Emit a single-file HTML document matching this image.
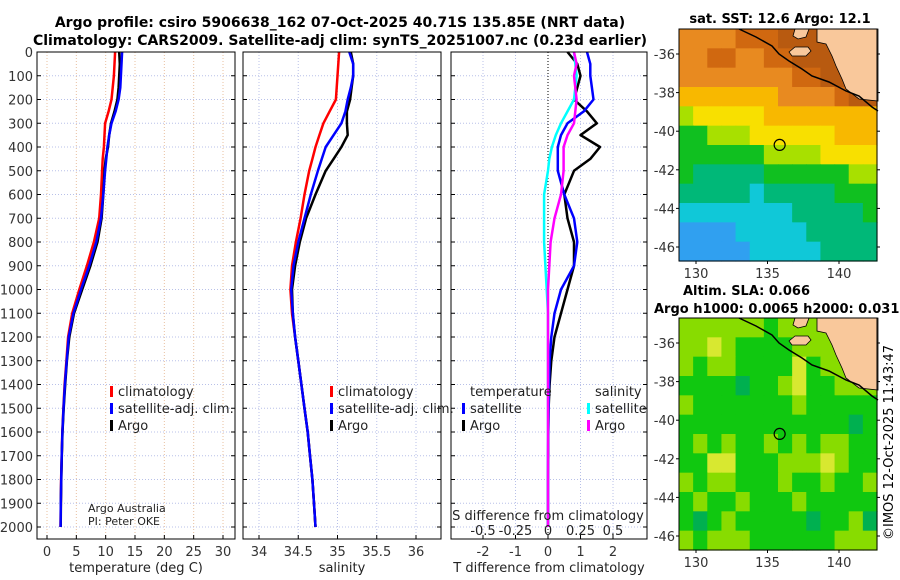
<!DOCTYPE html>
<html><head><meta charset="utf-8"><style>
body{margin:0;background:#fff;}
svg{display:block;font-family:"DejaVu Sans","Liberation Sans",sans-serif;}
</style></head><body>
<svg id="c" width="900" height="580" viewBox="0 0 900 580">
<text x="340" y="27" text-anchor="middle" font-size="14" font-weight="bold">Argo profile: csiro 5906638_162 07-Oct-2025 40.71S 135.85E (NRT data)</text>
<text x="340" y="45" text-anchor="middle" font-size="14" font-weight="bold">Climatology: CARS2009. Satellite-adj clim: synTS_20251007.nc (0.23d earlier)</text>
<text x="780" y="23" text-anchor="middle" font-size="13" font-weight="bold">sat. SST: 12.6 Argo: 12.1</text>
<text x="683" y="295" font-size="13" font-weight="bold">Altim. SLA: 0.066</text>
<text x="654" y="313" font-size="13" font-weight="bold">Argo h1000: 0.0065 h2000: 0.031</text>
<text transform="translate(893,540) rotate(-90)" font-size="13">©IMOS 12-Oct-2025 11:43:47</text>
<g id="root"></g>
</svg>
<script>
// ---- data ----
const depths=[0,50,100,150,200,250,300,350,400,450,500,600,700,800,900,1000,1100,1200,1300,1400,1500,1600,1700,1800,1900,2000];
const tempClim=[11.6,11.5,11.4,11.2,11.0,10.5,9.9,9.8,9.7,9.5,9.4,9.2,8.9,8.0,6.8,5.5,4.3,3.6,3.3,3.0,2.8,2.6,2.5,2.4,2.35,2.3];
const tempSat=[12.8,12.7,12.6,12.5,12.2,11.7,11.0,10.6,10.3,10.1,9.9,9.6,9.2,8.4,7.2,5.8,4.5,3.7,3.35,3.05,2.82,2.62,2.5,2.42,2.36,2.32];
const tempArgo=[12.3,12.4,12.3,12.2,12.0,11.5,10.9,10.6,10.4,10.0,9.8,9.6,9.3,8.6,7.4,6.0,4.6,3.8,3.4,3.1,2.85,2.64,2.52,2.43,2.37,2.33];
const salClim=[35.02,35.01,35.0,34.99,34.98,34.9,34.82,34.77,34.72,34.68,34.64,34.58,34.53,34.47,34.42,34.40,34.42,34.46,34.50,34.54,34.58,34.62,34.65,34.68,34.70,34.72];
const salSat=[35.15,35.2,35.2,35.17,35.13,35.1,35.05,34.95,34.85,34.8,34.75,34.66,34.58,34.5,34.44,34.41,34.43,34.46,34.5,34.54,34.58,34.62,34.65,34.68,34.7,34.72];
const salArgo=[35.17,35.2,35.2,35.18,35.16,35.12,35.12,35.13,35.05,34.95,34.85,34.72,34.6,34.52,34.46,34.42,34.43,34.46,34.5,34.54,34.58,34.62,34.65,34.68,34.7,34.72];
const dTArgo=[0.6,0.9,1.0,0.9,0.8,1.2,1.5,1.0,1.6,1.3,0.8,0.5,0.6,0.8,0.8,0.6,0.4,0.2,0.1,0.05,0.02,0.01,0.01,0,0,0];
const dTSat=[1.2,1.3,1.3,1.35,1.4,1.1,0.6,0.4,0.3,0.3,0.3,0.5,0.8,0.9,0.8,0.4,0.2,0.1,0.05,0.03,0.02,0.01,0,0,0,0];
const dSSat=[0.2,0.21,0.22,0.21,0.2,0.15,0.1,0.06,0.03,0.01,0.0,-0.03,-0.03,-0.03,-0.02,-0.01,0,0,0,0,0,0,0,0,0,0];
const dSArgo=[0.2,0.22,0.2,0.21,0.22,0.21,0.2,0.15,0.12,0.12,0.12,0.1,0.05,0.02,0.01,0,0,0,0,0,0,0,0,0,0,0];
const depthTicks=[0,100,200,300,400,500,600,700,800,900,1000,1100,1200,1300,1400,1500,1600,1700,1800,1900,2000];
const tempTicks=[0,5,10,15,20,25,30];
const salTicks=[34,34.5,35,35.5,36];
const salTickLabels=["34","34.5","35","35.5","36"];
const dTTicks=[-2,-1,0,1,2];
const dSTicks=[-0.5,-0.25,0,0.25,0.5];
const dSTickLabels=["-0.5","-0.25","0","0.25","0.5"];
const latTicks=[-36,-38,-40,-42,-44,-46];
const lonTicks=[130,135,140];
const sstField=[
[8,8,8,8,9,9,9,10,10,10,10,10,10,10],
[8,8,9,9,8,8,9,9,10,10,10,10,10,10],
[8,8,8,8,8,8,8,8,9,9,10,10,10,10],
[7,7,7,7,7,7,7,8,8,8,8,9,10,10],
[5,6,6,6,6,6,7,7,7,7,7,7,7,7],
[4,4,5,5,5,6,6,6,6,6,6,7,7,7],
[4,4,4,4,4,4,5,5,5,5,6,6,6,6],
[4,3,3,3,3,3,4,4,4,4,4,4,5,5],
[3,3,3,3,3,2,3,3,3,3,3,4,4,4],
[2,2,2,2,2,2,2,2,3,3,3,3,3,4],
[1,1,1,1,2,2,2,2,2,3,3,3,3,3],
[1,1,1,1,1,2,2,2,2,2,3,3,3,3]];
const slaField=[
[5,5,5,5,5,5,4,5,5,5,5,5,5,5],
[5,5,6,5,4,4,4,4,5,5,5,5,5,5],
[5,4,5,5,4,4,4,4,6,4,5,5,5,5],
[4,4,4,4,3,4,4,5,6,4,4,5,5,5],
[5,4,4,4,4,4,4,4,5,4,4,4,4,4],
[4,4,4,4,4,4,4,4,4,4,4,4,3,4],
[4,5,4,5,4,4,5,4,5,4,5,5,4,4],
[4,4,6,6,4,4,4,5,5,5,6,5,4,4],
[5,4,5,5,4,4,4,5,4,4,5,4,4,5],
[4,5,4,4,5,4,4,4,5,4,4,4,4,4],
[4,3,4,5,4,4,4,4,4,3,4,4,5,3],
[5,4,5,5,5,4,4,4,4,4,4,5,5,5]];
const argoLon=135.85, argoLat=-40.71;

// ---- drawing ----
const NS="http://www.w3.org/2000/svg";
const root=document.getElementById('root');
function mk(tag,attrs,parent){const e=document.createElementNS(NS,tag);for(const k in attrs)e.setAttribute(k,attrs[k]);(parent||root).appendChild(e);return e;}
const Y0=52,Y1=539;
const yD=d=>52+d*(475/2000);
const panels=[
 {x0:37,x1:235,fx:v=>47+v*5.867,name:'temperature'},
 {x0:243,x1:441,fx:v=>259+(v-34)*78.5,name:'salinity'},
 {x0:451,x1:647,fx:v=>548+v*32.5,name:'difference'}];
const fS=v=>548+v*130;

function frameAndGrid(p){
 const g=mk('g',{});
 
 
 depthTicks.forEach(d=>{const l=mk('line',{x1:p.x0,x2:p.x1,y1:yD(d),y2:yD(d),stroke:'#b8c0e8','stroke-width':1,'stroke-dasharray':'1,2'},g);
  
  mk('line',{x1:p.x0,x2:p.x0+4,y1:yD(d),y2:yD(d),stroke:'#000'},g);mk('line',{x1:p.x1-4,x2:p.x1,y1:yD(d),y2:yD(d),stroke:'#000'},g);});
 return g;
}
function series(g,vals,col,name,fx){
 const pts=vals.map((v,i)=>fx(v).toFixed(1)+','+yD(depths[i]).toFixed(1)).join(' ');
 const l=mk('polyline',{points:pts,fill:'none',stroke:col,'stroke-width':2.5,'stroke-linejoin':'round'},g);
 
}
let g=frameAndGrid(panels[0]);
tempTicks.forEach(t=>{const x=panels[0].fx(t);mk('line',{x1:x,x2:x,y1:Y0,y2:Y1,stroke:'#e8c0a0','stroke-dasharray':'1,2'},g);mk('line',{x1:x,x2:x,y1:Y1-4,y2:Y1,stroke:'#000'},g);
 const tx=mk('text',{x:x,y:556,'text-anchor':'middle','font-size':13,fill:'#333'},g);tx.textContent=t;});
depthTicks.forEach(d=>{const tx=mk('text',{x:33,y:yD(d)+5,'text-anchor':'end','font-size':13,fill:'#333'},g);tx.textContent=d;});
series(g,tempClim,'#f00','temp-climatology-line',panels[0].fx);
series(g,tempArgo,'#000','temp-argo-line',panels[0].fx);
series(g,tempSat,'#00f','temp-satellite-line',panels[0].fx);
g=frameAndGrid(panels[1]);
salTicks.forEach((t,i)=>{const x=panels[1].fx(t);mk('line',{x1:x,x2:x,y1:Y0,y2:Y1,stroke:'#b8c0e8','stroke-dasharray':'1,2'},g);mk('line',{x1:x,x2:x,y1:Y1-4,y2:Y1,stroke:'#000'},g);
 const tx=mk('text',{x:x,y:556,'text-anchor':'middle','font-size':13,fill:'#333'},g);tx.textContent=salTickLabels[i];});
series(g,salClim,'#f00','sal-climatology-line',panels[1].fx);
series(g,salArgo,'#000','sal-argo-line',panels[1].fx);
series(g,salSat,'#00f','sal-satellite-line',panels[1].fx);
g=frameAndGrid(panels[2]);
dTTicks.forEach(t=>{const x=panels[2].fx(t);mk('line',{x1:x,x2:x,y1:Y0,y2:Y1,stroke:'#b8c0e8','stroke-dasharray':'1,2'},g);mk('line',{x1:x,x2:x,y1:Y1-4,y2:Y1,stroke:'#000'},g);
 const tx=mk('text',{x:x,y:556,'text-anchor':'middle','font-size':13,fill:'#333'},g);tx.textContent=t;});
mk('line',{x1:548,x2:548,y1:Y0,y2:Y1,stroke:'#000','stroke-dasharray':'1,2'},g);
series(g,dTArgo,'#000','tdiff-argo-line',panels[2].fx);
series(g,dTSat,'#00f','tdiff-satellite-line',panels[2].fx);
series(g,dSSat,'#0ff','sdiff-satellite-line',fS);
series(g,dSArgo,'#f0f','sdiff-argo-line',fS);
dSTicks.forEach((t,i)=>{const x=fS(t);
 const tx=mk('text',{x:x,y:535,'text-anchor':'middle','font-size':13,fill:'#222'},g);tx.textContent=dSTickLabels[i];});
panels.forEach(p=>{const r=mk('rect',{x:p.x0,y:Y0,width:p.x1-p.x0,height:Y1-Y0,fill:'none',stroke:'#000'});});
function txt(x,y,s,name,opts){const t=mk('text',Object.assign({x:x,y:y,'font-size':13,fill:'#222'},opts||{}));t.textContent=s;return t;}
txt(136,572,'temperature (deg C)','temp-axis-title',{'text-anchor':'middle'});
txt(342,572,'salinity','salinity-axis-title',{'text-anchor':'middle'});
txt(549,572,'T difference from climatology','tdiff-axis-title',{'text-anchor':'middle'});
txt(548,520,'S difference from climatology','sdiff-axis-title',{'text-anchor':'middle'});
txt(88,512,'Argo Australia','credit-line1',{'font-size':11});
txt(88,525,'PI: Peter OKE','credit-line2',{'font-size':11});
function leg(x,y,col,label,name){const r=mk('rect',{x:x,y:y-10,width:3,height:11,fill:col});txt(x+8,y,label,name);}
leg(110,396,'#f00','climatology','legend-temp-climatology');
leg(110,413,'#00f','satellite-adj. clim.','legend-temp-satellite');
leg(110,430,'#000','Argo','legend-temp-argo');
leg(330,396,'#f00','climatology','legend-sal-climatology');
leg(330,413,'#00f','satellite-adj. clim.','legend-sal-satellite');
leg(330,430,'#000','Argo','legend-sal-argo');
txt(470,396,'temperature','legend-temperature-header');
leg(462,413,'#00f','satellite','legend-tdiff-satellite');
leg(462,430,'#000','Argo','legend-tdiff-argo');
txt(595,396,'salinity','legend-salinity-header');
leg(587,413,'#0ff','satellite','legend-sdiff-satellite');
leg(587,430,'#f0f','Argo','legend-sdiff-argo');

const sstColors=['#2070f0','#30a0f0','#10c8d8','#00b878','#10c020','#a8e000','#f8e000','#f8b800','#e88a20','#d06810','#b85a10'];
const slaColors=['#00a0a0','#00a0a0','#00a860','#00b050','#10c810','#88dc00','#d8e830'];
function drawMap(top,field,colors,name){
 const L=679,R=877,T=top,B=top+232,o=T-29;
 const gm=mk('g',{});
 const lonX=lo=>696+(lo-130)*14.3, latY=la=>T+25+(-36-la)*19.3;
 const rows=field.length,cols=field[0].length,cw=(R-L)/cols,ch=(B-T)/rows;
 field.forEach((row,i)=>row.forEach((v,j)=>{const c=mk('rect',{x:(L+j*cw).toFixed(2),y:(T+i*ch).toFixed(2),width:(cw+0.6).toFixed(2),height:(ch+0.6).toFixed(2),fill:colors[v]},gm);
  }));
 const P=a=>a.map(p=>p[0]+','+(p[1]+o)).join(' ');
 const land=mk('polygon',{points:P([[817,29],[878,29],[878,101],[859,99],[846,89],[842,79],[836,66],[832,56],[826,44],[817,42]]),fill:'#f9c89b',stroke:'#000','stroke-width':0.8},gm);
 
 const i1=mk('polygon',{points:P([[789,52],[795,47],[808,47],[811,51],[806,56],[792,56]]),fill:'#f9c89b',stroke:'#000','stroke-width':0.8},gm);
 
 const i2=mk('polygon',{points:P([[795,29],[809,29],[806,37],[798,39],[793,36]]),fill:'#f9c89b',stroke:'#000','stroke-width':0.8},gm);
 
 const coast=mk('polyline',{points:P([[739,29],[756,37],[772,46],[779,54],[789,61],[802,69],[812,76],[829,82],[846,91],[859,96],[872,107],[878,111]]),fill:'none',stroke:'#000','stroke-width':1.5},gm);
 
 mk('rect',{x:L,y:T,width:R-L,height:B-T,fill:'none',stroke:'#000'},gm);
 latTicks.forEach(la=>{const y=latY(la);mk('line',{x1:L-3,x2:L,y1:y,y2:y,stroke:'#000'},gm);mk('line',{x1:R,x2:R+3,y1:y,y2:y,stroke:'#000'},gm);
  const t=mk('text',{x:675,y:y+5,'text-anchor':'end','font-size':13,fill:'#333'},gm);t.textContent=la;});
 lonTicks.forEach(lo=>{const x=lonX(lo);mk('line',{x1:x,x2:x,y1:B,y2:B+3,stroke:'#000'},gm);
  const t=mk('text',{x:x,y:B+17,'text-anchor':'middle','font-size':13,fill:'#333'},gm);t.textContent=lo;});
 const m=mk('circle',{cx:lonX(argoLon),cy:latY(argoLat),r:5.5,fill:'none',stroke:'#000','stroke-width':1.2},gm);
 
}
drawMap(29,sstField,sstColors,'sst-map');
drawMap(318,slaField,slaColors,'sla-map');
</script>
</body></html>
